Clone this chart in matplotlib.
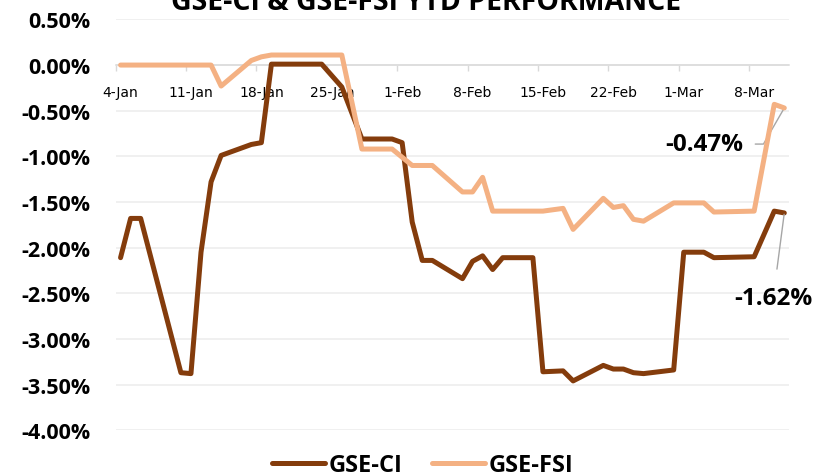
import matplotlib
matplotlib.use("Agg")
import matplotlib.pyplot as plt
import matplotlib.dates as mdates
import matplotlib.lines as mlines
import pandas as pd

# year-to-date returns, in percent
ci_dates = ["2021-01-04", "2021-01-05", "2021-01-06", "2021-01-10", "2021-01-11", "2021-01-12",
            "2021-01-13", "2021-01-14", "2021-01-17", "2021-01-18", "2021-01-19", "2021-01-24",
            "2021-01-26", "2021-01-28", "2021-01-31", "2021-02-01", "2021-02-02", "2021-02-03",
            "2021-02-04", "2021-02-07", "2021-02-08", "2021-02-09", "2021-02-10", "2021-02-11",
            "2021-02-14", "2021-02-15", "2021-02-17", "2021-02-18", "2021-02-21", "2021-02-22",
            "2021-02-23", "2021-02-24", "2021-02-25", "2021-02-28", "2021-03-01", "2021-03-03",
            "2021-03-04", "2021-03-08", "2021-03-10", "2021-03-11"]
ci_values = [-2.11, -1.68, -1.68, -3.37, -3.38, -2.05, -1.28, -0.99, -0.87, -0.85, 0.01, 0.01,
             -0.24, -0.81, -0.81, -0.85, -1.72, -2.14, -2.14, -2.34, -2.15, -2.09, -2.24, -2.11,
             -2.11, -3.36, -3.35, -3.46, -3.29, -3.33, -3.33, -3.37, -3.38, -3.34, -2.05, -2.05,
             -2.11, -2.10, -1.60, -1.62]

fsi_dates = ["2021-01-04", "2021-01-13", "2021-01-14", "2021-01-17", "2021-01-18", "2021-01-19",
             "2021-01-26", "2021-01-28", "2021-01-31", "2021-02-02", "2021-02-04", "2021-02-07",
             "2021-02-08", "2021-02-09", "2021-02-10", "2021-02-15", "2021-02-17", "2021-02-18",
             "2021-02-21", "2021-02-22", "2021-02-23", "2021-02-24", "2021-02-25", "2021-02-28",
             "2021-03-03", "2021-03-04", "2021-03-08", "2021-03-10", "2021-03-11"]
fsi_values = [0.00, 0.00, -0.23, 0.05, 0.09, 0.11, 0.11, -0.92, -0.92, -1.10, -1.10, -1.39,
              -1.39, -1.23, -1.60, -1.60, -1.57, -1.80, -1.46, -1.56, -1.54, -1.69, -1.71, -1.51,
              -1.51, -1.61, -1.60, -0.43, -0.47]

week_ticks = ["2021-01-04", "2021-01-11", "2021-01-18", "2021-01-25", "2021-02-01",
              "2021-02-08", "2021-02-15", "2021-02-22", "2021-03-01", "2021-03-08"]
week_labels = ["4-Jan", "11-Jan", "18-Jan", "25-Jan", "1-Feb",
               "8-Feb", "15-Feb", "22-Feb", "1-Mar", "8-Mar"]
y_ticks = [0.5, 0.0, -0.5, -1.0, -1.5, -2.0, -2.5, -3.0, -3.5, -4.0]

CI_COLOR = "#843C0C"
FSI_COLOR = "#F4B183"
FONT = "Open Sans"


def day_mid(dates):
    # Excel date axis puts each point in the middle of its day slot
    return mdates.date2num(pd.to_datetime(dates)) + 0.5


fig = plt.figure(figsize=(8.13, 4.77), dpi=100)
ax = fig.add_axes([0.1421, 0.0960, 0.8288, 0.8612])

ax.plot(day_mid(ci_dates), ci_values, color=CI_COLOR, lw=3.6,
        solid_joinstyle="round", solid_capstyle="round", zorder=3)
ax.plot(day_mid(fsi_dates), fsi_values, color=FSI_COLOR, lw=3.6,
        solid_joinstyle="round", solid_capstyle="round", zorder=4)

start = mdates.date2num(pd.Timestamp("2021-01-04"))
ax.set_xlim(start, start + 67)
ax.set_ylim(-4.0, 0.5)

# tick marks on the day boundaries, labels centred on the day
ax.set_xticks(mdates.date2num(pd.to_datetime(week_ticks)))
ax.set_xticklabels([])
ax.set_xticks(day_mid(week_ticks), minor=True)
ax.set_xticklabels(week_labels, minor=True, fontsize=13.5, family=FONT)
ax.tick_params(axis="x", which="major", direction="out", length=4, width=1, color="#d9d9d9")
ax.tick_params(axis="x", which="minor", length=0, pad=14)

ax.set_yticks(y_ticks)
ax.set_yticklabels(["%.2f%%" % v for v in y_ticks], fontsize=15.5, family=FONT, fontweight="bold")
ax.tick_params(axis="y", length=0, pad=18)

ax.grid(axis="y", color="#ececec", lw=1.1, zorder=0)
ax.set_axisbelow(True)
for s in ["top", "right", "left"]:
    ax.spines[s].set_visible(False)
ax.spines["bottom"].set_position(("data", 0))
ax.spines["bottom"].set_color("#d9d9d9")
ax.spines["bottom"].set_linewidth(1.1)
ax.spines["bottom"].set_zorder(1)

# end labels
lead = dict(arrowstyle="-", color="#a6a6a6", lw=1.0)
ax.annotate("%.2f%%" % fsi_values[-1], xy=(day_mid(fsi_dates)[-1], fsi_values[-1]),
            xytext=(-58, -26), textcoords="offset points", ha="center", va="center",
            fontsize=17.5, fontweight="bold", family=FONT,
            arrowprops=dict(lead, connectionstyle="angle,angleA=0,angleB=60,rad=0",
                            shrinkA=7, shrinkB=1))
ax.annotate("%.2f%%" % ci_values[-1], xy=(day_mid(ci_dates)[-1], ci_values[-1]),
            xytext=(-8, -61), textcoords="offset points", ha="center", va="center",
            fontsize=17.5, fontweight="bold", family=FONT,
            arrowprops=dict(lead, shrinkA=10, shrinkB=1))

fig.text(0.5246, 1 - 10 / 477, "GSE-CI & GSE-FSI YTD PERFORMANCE", ha="center", va="baseline",
         fontsize=20.5, fontweight="bold", family=FONT)

handles = [mlines.Line2D([], [], color=CI_COLOR, lw=3.6, solid_capstyle="round", label="GSE-CI"),
           mlines.Line2D([], [], color=FSI_COLOR, lw=3.6, solid_capstyle="round", label="GSE-FSI")]
fig.legend(handles=handles, loc="center", bbox_to_anchor=(0.52, 0.023), ncol=2, frameon=False,
           handlelength=2.25, handletextpad=0.15, columnspacing=1.25, borderaxespad=0,
           prop=dict(family=FONT, weight="bold", size=17))

fig.savefig("out.png", dpi=100)
